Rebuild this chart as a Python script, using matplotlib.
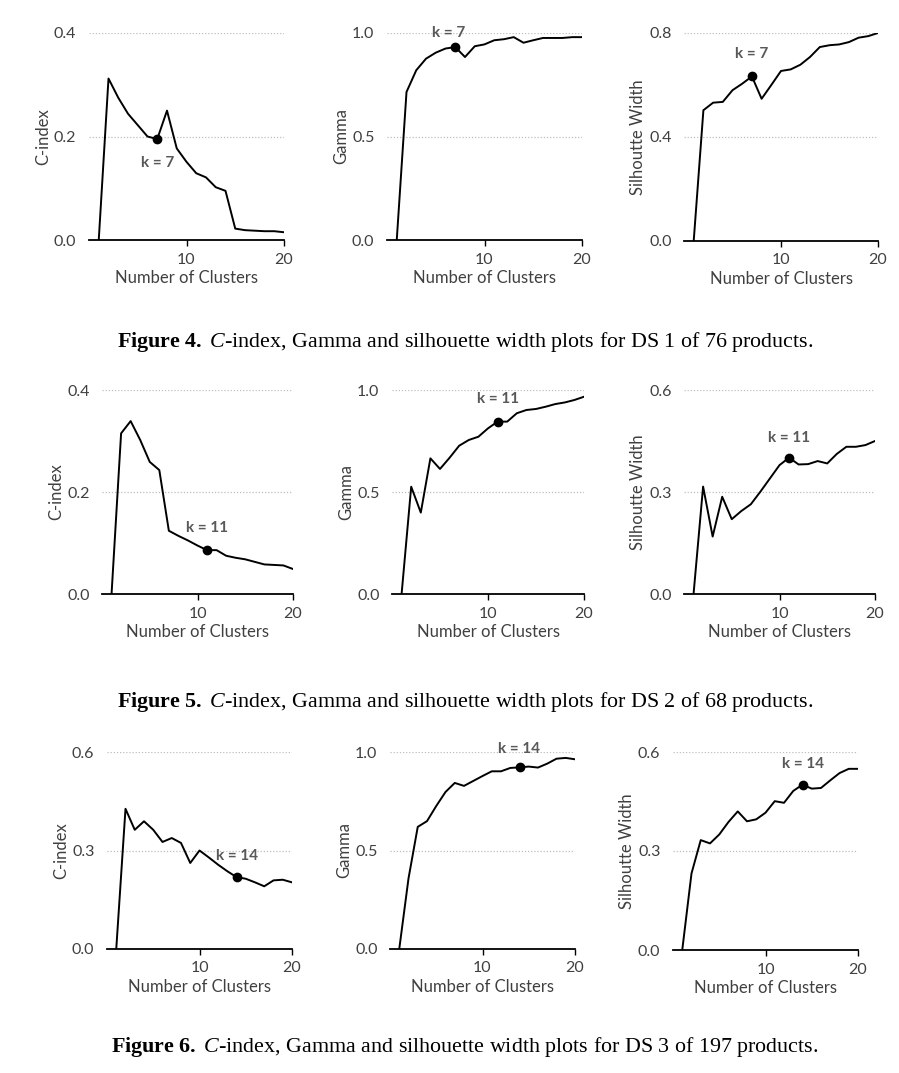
import numpy as np
import matplotlib.pyplot as plt

plt.rcParams['font.family'] = ['Lato', 'DejaVu Sans']
plt.rcParams['mathtext.fontset'] = 'custom'
plt.rcParams['mathtext.rm'] = 'Liberation Serif'
plt.rcParams['mathtext.it'] = 'Liberation Serif:italic'
plt.rcParams['mathtext.bf'] = 'Liberation Serif:bold'

# number of clusters
k = np.arange(1, 21)

# DS 1 of 76 products
cindex_ds1 = [0, 0.312, 0.275, 0.244, 0.222, 0.200, 0.195, 0.250, 0.177, 0.151,
              0.129, 0.121, 0.102, 0.095, 0.022, 0.019, 0.018, 0.017, 0.017, 0.015]
gamma_ds1 = [0, 0.715, 0.820, 0.876, 0.905, 0.925, 0.932, 0.884, 0.936, 0.945,
             0.965, 0.970, 0.980, 0.953, 0.965, 0.976, 0.976, 0.976, 0.980, 0.980]
silh_ds1 = [0, 0.503, 0.532, 0.535, 0.580, 0.605, 0.633, 0.547, 0.600, 0.654,
            0.660, 0.678, 0.708, 0.746, 0.753, 0.756, 0.765, 0.782, 0.788, 0.800]

# DS 2 of 68 products
cindex_ds2 = [0, 0.315, 0.339, 0.302, 0.259, 0.243, 0.124, 0.114, 0.105, 0.095,
              0.086, 0.086, 0.075, 0.071, 0.068, 0.063, 0.058, 0.057, 0.056, 0.049]
gamma_ds2 = [0, 0.526, 0.399, 0.665, 0.613, 0.668, 0.727, 0.755, 0.771, 0.812,
             0.845, 0.845, 0.886, 0.902, 0.907, 0.918, 0.931, 0.939, 0.951, 0.967]
silh_ds2 = [0, 0.316, 0.169, 0.286, 0.220, 0.244, 0.264, 0.301, 0.340, 0.379,
            0.401, 0.381, 0.382, 0.391, 0.384, 0.412, 0.433, 0.433, 0.438, 0.450]

# DS 3 of 197 products
cindex_ds3 = [0, 0.427, 0.363, 0.389, 0.363, 0.326, 0.338, 0.323, 0.262, 0.300,
              0.279, 0.257, 0.237, 0.219, 0.214, 0.203, 0.191, 0.209, 0.211, 0.203]
gamma_ds3 = [0, 0.358, 0.620, 0.649, 0.726, 0.797, 0.843, 0.828, 0.853, 0.878,
             0.902, 0.902, 0.919, 0.922, 0.926, 0.921, 0.941, 0.966, 0.970, 0.963]
silh_ds3 = [0, 0.232, 0.333, 0.323, 0.350, 0.388, 0.420, 0.390, 0.396, 0.416,
            0.451, 0.446, 0.482, 0.501, 0.489, 0.491, 0.514, 0.536, 0.549, 0.549]

best_k = [7, 11, 14]
y_names = ['C-index', 'Gamma', 'Silhoutte Width']
captions = [r'$\mathbf{Figure\ 4.}$ $\mathit{C}$-index, Gamma and silhouette width plots for DS 1 of 76 products.',
            r'$\mathbf{Figure\ 5.}$ $\mathit{C}$-index, Gamma and silhouette width plots for DS 2 of 68 products.',
            r'$\mathbf{Figure\ 6.}$ $\mathit{C}$-index, Gamma and silhouette width plots for DS 3 of 197 products.']

series = [[cindex_ds1, gamma_ds1, silh_ds1],
          [cindex_ds2, gamma_ds2, silh_ds2],
          [cindex_ds3, gamma_ds3, silh_ds3]]
yticks = [[[0.0, 0.2, 0.4], [0.0, 0.5, 1.0], [0.0, 0.4, 0.8]],
          [[0.0, 0.2, 0.4], [0.0, 0.5, 1.0], [0.0, 0.3, 0.6]],
          [[0.0, 0.3, 0.6], [0.0, 0.5, 1.0], [0.0, 0.3, 0.6]]]

W, H = 899, 1073
fig = plt.figure(figsize=(W / 100, H / 100), dpi=100)

# panel boxes in pixels: (left, right, bottom, top)
boxes = [[(89, 284, 240, 33), (387, 582, 240, 33), (684, 878, 241, 33)],
         [(102, 293, 594, 390), (392, 584, 594, 390), (684, 875, 594, 390)],
         [(107, 292, 949, 752), (390, 575, 949, 752), (673, 858, 950, 752)]]
# label offsets (points) from the marked point
offsets = [[(0, -17), (-5, 10), (0, 16)],
           [(0, 16), (0, 16), (0, 14)],
           [(0, 15), (0, 13), (0, 15)]]
caption_y = [342, 702, 1047]

txt = '#404040'
for r in range(3):
    for c in range(3):
        l, rt, b, t = boxes[r][c]
        ax = fig.add_axes([l / W, 1 - b / H, (rt - l) / W, (b - t) / H])
        vals = series[r][c]
        ax.plot(k, vals, color='black', lw=1.4, zorder=3)
        kk = best_k[r]
        ax.plot(kk, vals[kk - 1], 'o', color='black', ms=6, zorder=4)
        ax.annotate(f'k = {kk}', (kk, vals[kk - 1]), xytext=offsets[r][c],
                    textcoords='offset points', ha='center', va='center',
                    fontsize=11, fontweight='bold', color='#595959')
        yt = yticks[r][c]
        ax.set_xlim(0, 20)
        ax.set_ylim(0, yt[-1])
        ax.set_xticks([10, 20])
        ax.set_yticks(yt)
        ax.set_yticklabels([f'{v:.1f}' for v in yt])
        for v in yt[1:]:
            ax.axhline(v, color='#bfbfbf', lw=0.9, ls=(0, (1, 1.5)), zorder=1)
        for s in ['top', 'right', 'left']:
            ax.spines[s].set_visible(False)
        ax.spines['bottom'].set_color('black')
        ax.spines['bottom'].set_linewidth(1.3)
        ax.tick_params(axis='y', length=0, labelsize=11.5, labelcolor=txt, pad=9)
        ax.tick_params(axis='x', length=4, direction='out', width=1, labelsize=11.5,
                       labelcolor=txt, pad=5)
        ax.set_xlabel('Number of Clusters', fontsize=12, color=txt, labelpad=2.5)
        ax.set_ylabel(y_names[c], fontsize=12, color=txt, labelpad=2)
        ax.set_facecolor('none')
    fig.text(465 / W, 1 - caption_y[r] / H, captions[r], ha='center', va='center',
             fontsize=15.8, color='black', family='Liberation Serif')

fig.savefig('out.png', dpi=100)
